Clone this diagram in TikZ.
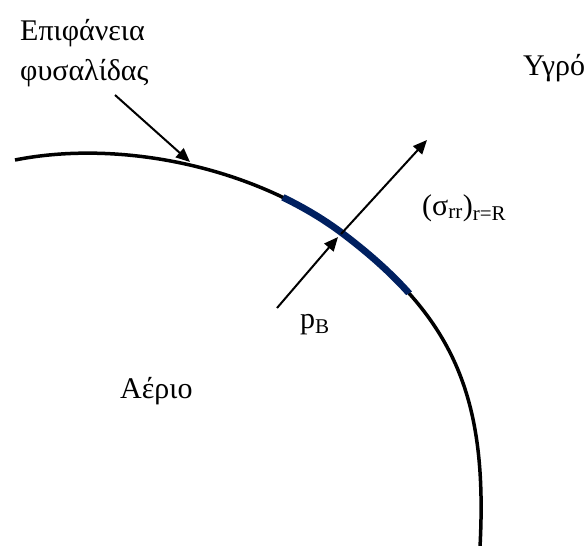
\documentclass[tikz,border=0pt]{standalone}
\usepackage{fontspec}
\setmainfont{Liberation Serif}
\usetikzlibrary{arrows.meta}
\definecolor{navy}{HTML}{002060}
\begin{document}
\begin{tikzpicture}[x=1pt,y=-1pt,
  lbl/.style={inner sep=0pt, anchor=base west, font=\fontsize{30}{36}\selectfont},
  arr/.style={line width=2pt, -{Triangle[length=14pt,width=12pt]}},
  surf/.style={line width=3.5pt},
  patch/.style={line width=6.8pt, color=navy}]
\useasboundingbox (0,0) rectangle (587,546);
\coordinate (bA) at (15,160);
\coordinate (bB) at (342,233);
\coordinate (bC) at (480,547);
\def\bubblepath{(bA) .. controls (120,139) and (254,167) .. (bB) .. controls (453.7,317.3) and (488,396) .. (bC)}
\draw[surf] \bubblepath;
\begin{scope}
  \clip (291.6,181.5) -- (424.8,283.2) -- (391.2,304.8) -- (272.4,216.5) -- cycle;
  \draw[patch] \bubblepath;
\end{scope}
\node[lbl] (surfA) at (20,41) {Επιφάνεια};
\node[lbl] (surfB) at (20,80) {φυσαλίδας};
\node[lbl] (liquid) at (523,75) {Υγρό};
\node[lbl] (gas) at (120,398) {Αέριο};
\node[lbl] (pb) at (300,328) {p\textsubscript{B}};
\node[lbl] (sig) at (422,215) {(σ\textsubscript{rr})\textsubscript{r=R}};
\coordinate (s1) at (115,95);
\coordinate (t1) at (190,162);
\coordinate (c) at (341,234);
\coordinate (top) at (427,140);
\coordinate (pbstart) at (277,308);
\coordinate (pbend) at (338,237);
\draw[arr] (s1) -- (t1);
\draw[arr] (pbstart) -- (pbend);
\draw[arr] (c) -- (top);
\end{tikzpicture}
\end{document}
